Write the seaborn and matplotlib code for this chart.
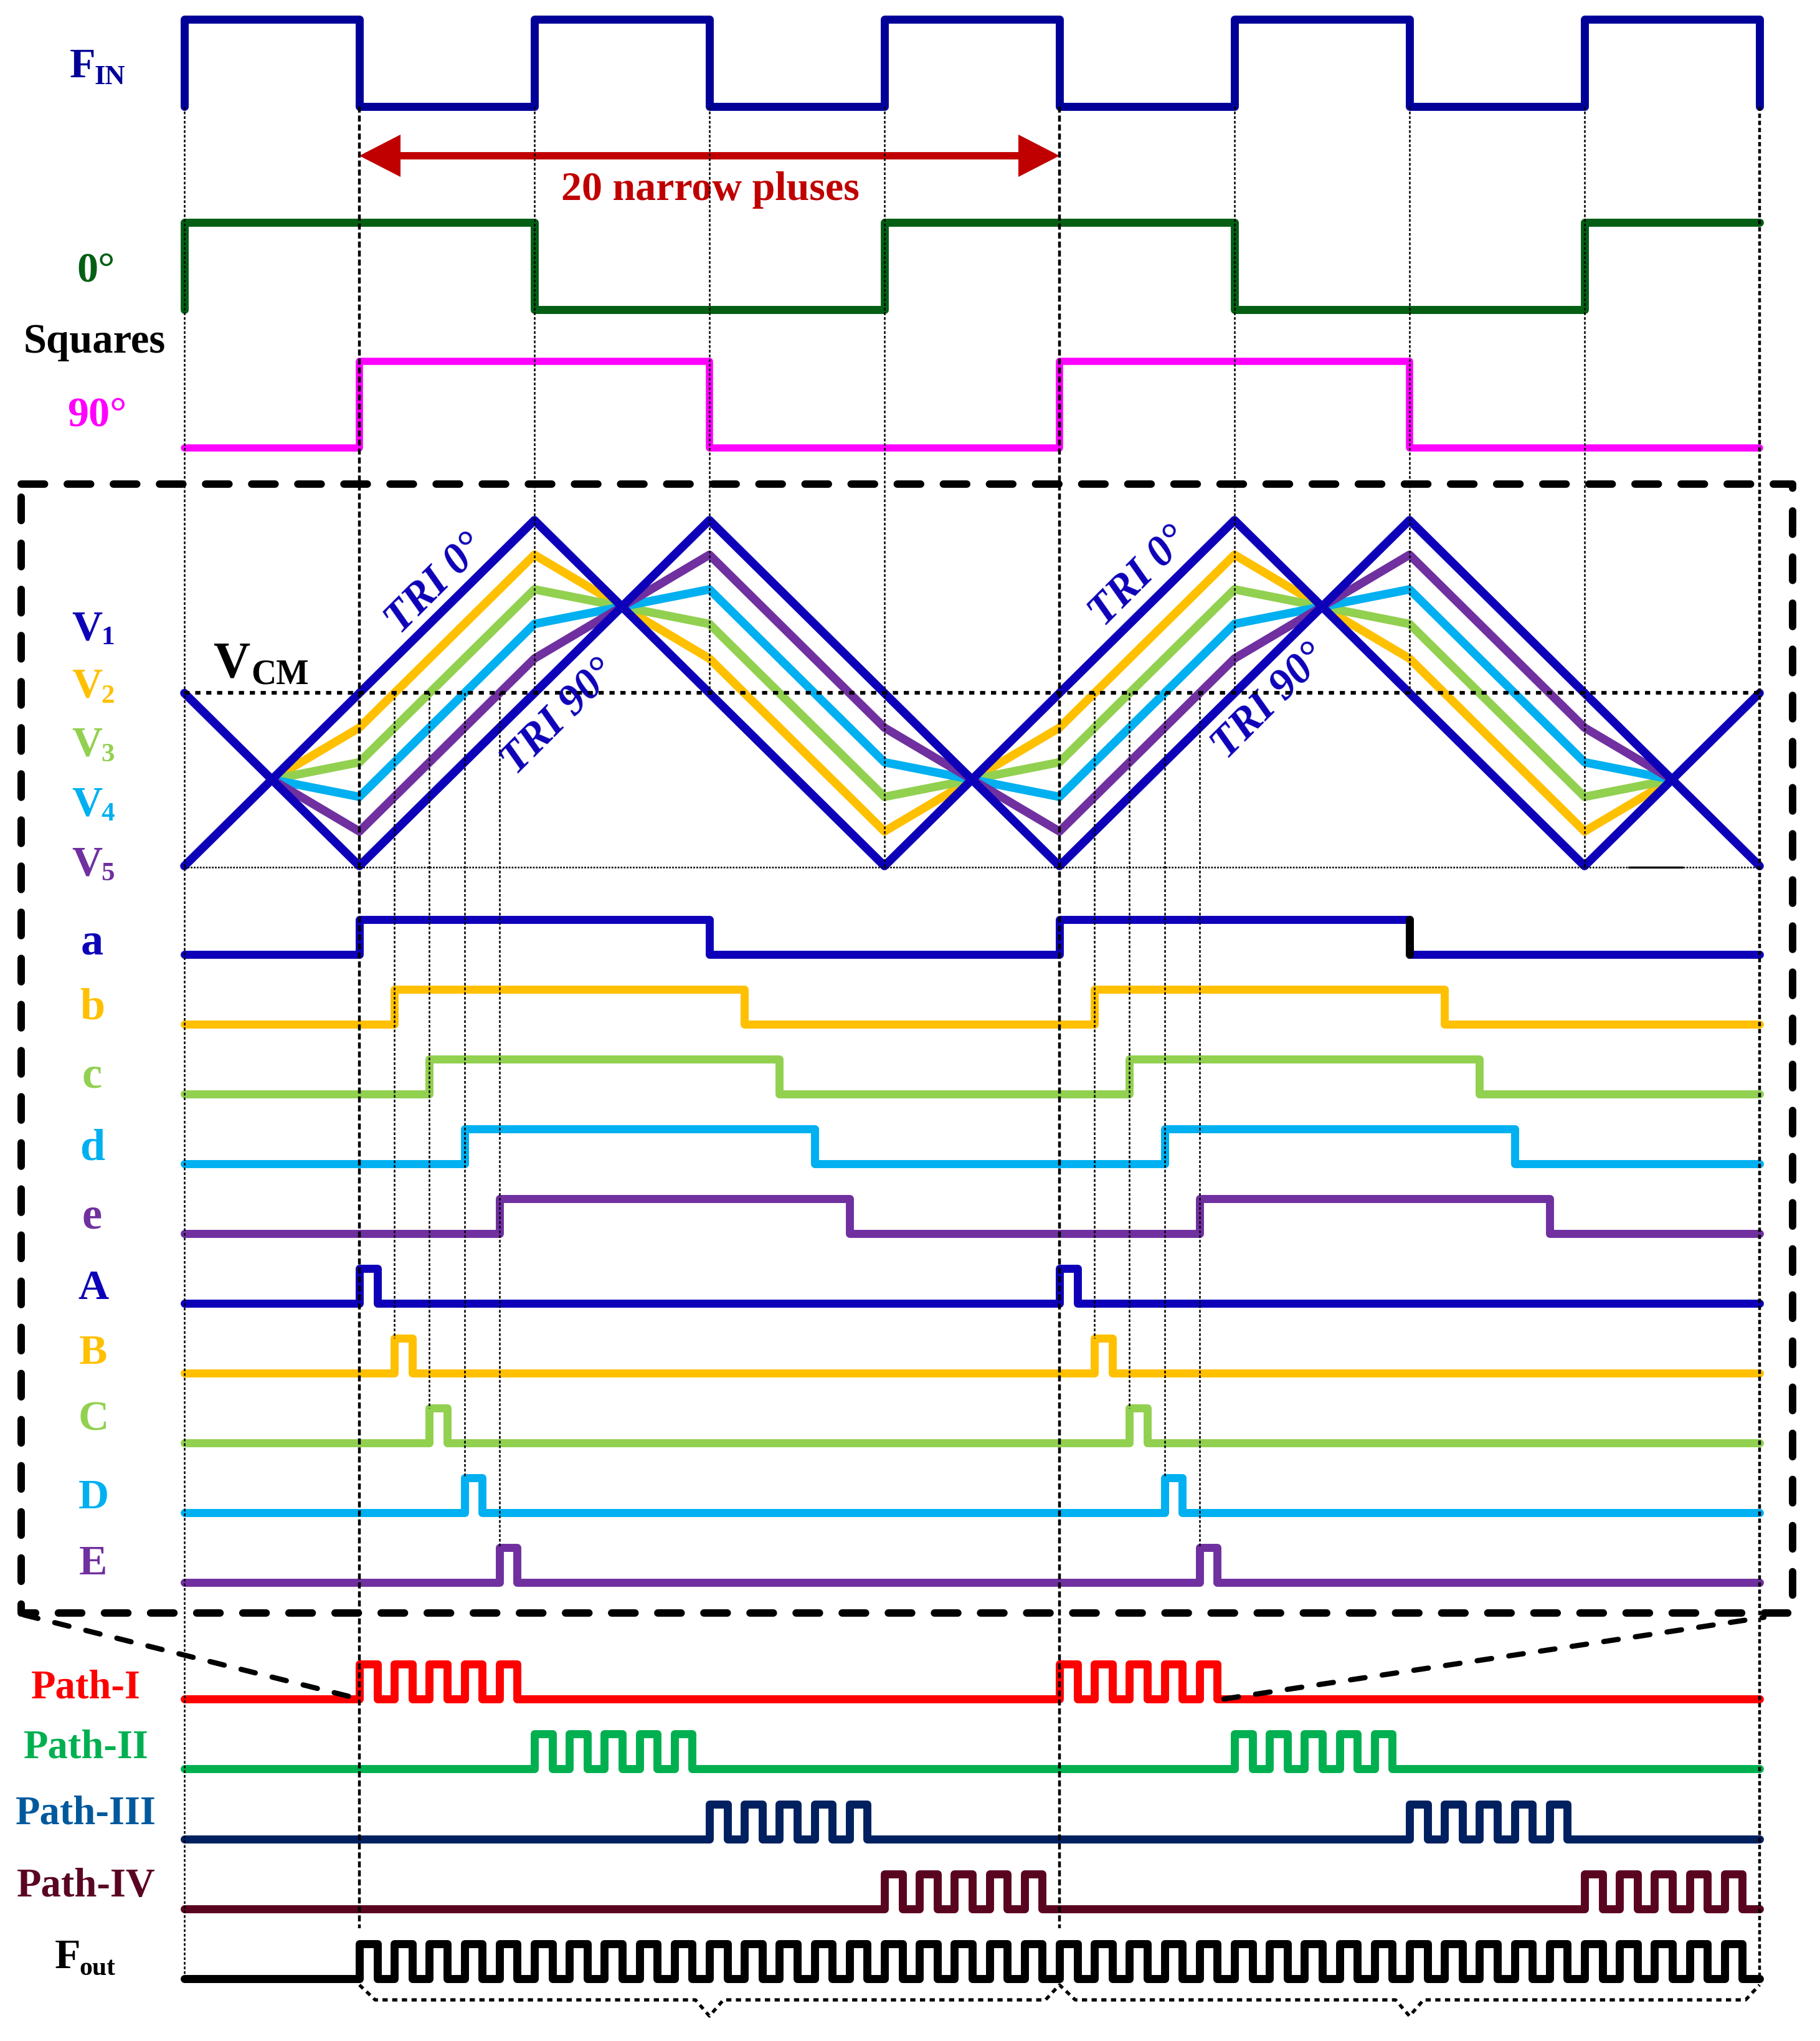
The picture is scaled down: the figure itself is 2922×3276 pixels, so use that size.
import numpy as np
import seaborn as sns
import matplotlib.pyplot as plt

# time axis is in half periods of F_IN, y axis is picture pixels
X0 = 296.
UNIT = 281.
W, H = 2922, 3276

# edges of the square waves
fin_edges = [1, 2, 3, 4, 5, 6, 7, 8]
sq0_edges = [2, 4, 6, 8]
sq90_edges = [1, 3, 5, 7]
a_edges = [1, 3, 5, 7]
b_edges = [1.2, 3.2, 5.2, 7.2]
c_edges = [1.4, 3.4, 5.4, 7.4]
d_edges = [1.6, 3.6, 5.6, 7.6]
e_edges = [1.8, 3.8, 5.8, 7.8]

# triangles, level 0 = bottom, 1 = top
tri0_t = [0, 2, 4, 6, 8, 9]
tri0_v = [0, 1, 0, 1, 0, 0.5]
tri90_t = [0, 1, 3, 5, 7, 9]
tri90_v = [0.5, 0, 1, 0, 1, 0]
v_t = [0.5, 1, 2, 2.5, 3, 4, 4.5, 5, 6, 6.5, 7, 8, 8.5]
v2_v = [.25, .4, .9, .75, .6, .1, .25, .4, .9, .75, .6, .1, .25]
v3_v = [.25, .3, .8, .75, .7, .2, .25, .3, .8, .75, .7, .2, .25]
v4_v = [.25, .2, .7, .75, .8, .3, .25, .2, .7, .75, .8, .3, .25]
v5_v = [.25, .1, .6, .75, .9, .4, .25, .1, .6, .75, .9, .4, .25]

# narrow pulses
A_rise = [1, 5]
B_rise = [1.2, 5.2]
C_rise = [1.4, 5.4]
D_rise = [1.6, 5.6]
E_rise = [1.8, 5.8]
path1_rise = [1, 1.2, 1.4, 1.6, 1.8, 5, 5.2, 5.4, 5.6, 5.8]
path2_rise = [2, 2.2, 2.4, 2.6, 2.8, 6, 6.2, 6.4, 6.6, 6.8]
path3_rise = [3, 3.2, 3.4, 3.6, 3.8, 7, 7.2, 7.4, 7.6, 7.8]
path4_rise = [4, 4.2, 4.4, 4.6, 4.8, 8, 8.2, 8.4, 8.6, 8.8]

NAVY = '#000099'
BLUE = '#0D00B8'
YELLOW = '#FFC000'
GREEN = '#92D050'
SKY = '#00B0F0'
PURPLE = '#7030A0'
FONT = 'Liberation Serif'
LW = 9.3


def px(x):
    return (x - X0) / UNIT


def square(edges, start=0):
    # list of edges -> stepped line from t=0 to t=9
    xs, ys = [0], [start]
    level = start
    for e in edges:
        xs += [e, e]
        ys += [level, 1 - level]
        level = 1 - level
    xs.append(9)
    ys.append(level)
    return np.array(xs, dtype=float), np.array(ys, dtype=float)


def pulses(rises, width=0.102):
    edges = []
    for r in rises:
        edges += [r, r + width]
    return square(edges)


def trace(x, y, color, lw=LW, **kw):
    kw.setdefault('solid_capstyle', 'round')
    kw.setdefault('solid_joinstyle', 'round')
    sns.lineplot(x=np.asarray(x, dtype=float), y=np.asarray(y, dtype=float), color=color,
                 linewidth=lw, estimator=None, sort=False, errorbar=None,
                 legend=False, ax=ax, **kw)


def row(x, lv, base, height, color, lw=LW):
    trace(x, base - np.asarray(lv) * height, color, lw)


def dashed(x, y, on, off, lw, color='black', cap='butt', z=5):
    trace(x, y, color, lw, linestyle=(0, (on, off)), dash_capstyle=cap,
          dash_joinstyle='round', zorder=z)


def label(x, y, s, color, size=49, ha='center', **kw):
    ax.text(px(x), y, s, color=color, fontsize=size, ha=ha, va='baseline',
            family=FONT, weight='bold', **kw)


sns.set_theme(style='white')
plt.rcParams['lines.scale_dashes'] = False
fig = plt.figure(figsize=(W / 100, H / 100), dpi=100, facecolor='white')
ax = fig.add_axes([0, 0, 1, 1])
ax.set_xlim(px(0), px(W))
ax.set_ylim(H, 0)
ax.axis('off')

# top squares
x, y = square(fin_edges, 1)
x = np.concatenate([[0], x, [9]])
y = np.concatenate([[0], y, [0]])
row(x, y, 171, 140, NAVY)
x, y = square(sq0_edges, 1)
x = np.insert(x, 0, 0)
y = np.insert(y, 0, 0)
row(x, y, 497, 140, '#045F14')
row(*square(sq90_edges), 719, 139, '#FF00FF', lw=8.3)

# triangles
TRI_B, TRI_H = 1390, 555
for t, v, c in [(v_t, v2_v, YELLOW), (v_t, v3_v, GREEN), (v_t, v4_v, SKY), (v_t, v5_v, PURPLE),
                (tri0_t, tri0_v, BLUE), (tri90_t, tri90_v, BLUE)]:
    row(t, v, TRI_B, TRI_H, c, lw=9.8)

# comparator outputs
colors5 = [BLUE, YELLOW, GREEN, SKY, PURPLE]
for i, (edges, c) in enumerate(zip([a_edges, b_edges, c_edges, d_edges, e_edges], colors5)):
    row(*square(edges), 1532 + 112 * i, 56, c)
trace([7, 7], [1476, 1532], 'black')
for i, (rises, c) in enumerate(zip([A_rise, B_rise, C_rise, D_rise, E_rise], colors5)):
    row(*pulses(rises), 2092 + 112 * i, 56, c)

# paths and output
row(*pulses(path1_rise), 2727, 56, '#FF0000')
row(*pulses(path2_rise), 2839, 56, '#00B050')
row(*pulses(path3_rise), 2952, 56, '#002060')
row(*pulses(path4_rise), 3064, 56, '#5A0520')
row(*pulses(sorted(path1_rise + path2_rise + path3_rise + path4_rise)), 3176, 56, 'black')

# vertical guides
for t, bottom in [(0, 3176), (2, 1112), (3, 1112), (4, 1392), (6, 1112), (7, 1112), (8, 1392)]:
    dashed([t, t], [171, bottom], 3.2, 2.2, 1.8)
for t in [1, 5]:
    dashed([t, t], [171, 3095], 7, 3.4, 3.2)
dashed([9, 9], [171, 3176], 5, 3.2, 3.2)
for t0 in [1, 5]:
    for k, top in enumerate([2148, 2260, 2372, 2484]):
        t = t0 + [0.2, 0.4, 0.6, 0.8][k]
        dashed([t, t], [1112, top], 3.2, 2.2, 1.8)

# VCM and bottom reference
dashed([0, 9], [1112, 1112], 6, 6.6, 4.2)
dashed([0, 9], [1392, 1392], 2, 1.5, 1.8)
trace([px(2615), px(2701)], [1392, 1392], 'black', 2.4)

# zoom box
box_x = [px(34), px(2878), px(2878), px(34), px(34)]
box_y = [777, 777, 2589, 2589, 777]
dashed(box_x, box_y, 27, 26.3, 8.6, cap='round')
dashed([px(38), 1], [2592, 2727], 17, 20, 6, cap='round')
dashed([px(1965), px(2832)], [2727, 2596], 17, 20, 6, cap='round')

# braces under F_out
brace_t = [1, 1.09, 2.92, 3, 3.08, 4.92, 5, 5.09, 6.92, 7, 7.08, 8.92, 9]
brace_y = [3186, 3210, 3210, 3236, 3210, 3210, 3186, 3210, 3210, 3236, 3210, 3210, 3186]
dashed(brace_t, brace_y, 6, 5.2, 3.8)

# red arrow
ax.annotate('', xy=(1, 250), xytext=(5, 250),
            arrowprops=dict(arrowstyle='<|-|>,head_length=3.4,head_width=1.75', mutation_scale=10,
                            lw=8.5, color='#C00000', shrinkA=0, shrinkB=0, joinstyle='miter'))
label(1140, 321, '20 narrow pluses', '#C00000', size=47.5)

# labels
label(133, 124, 'F', NAVY)
label(176, 135, 'IN', NAVY, size=32)
label(154, 451, '0°', '#045F14')
label(152, 566, 'Squares', 'black', size=48)
label(156, 684, '90°', '#FF00FF')

for i, (base, sub, c) in enumerate([(1026, 1034, BLUE), (1119, 1128, YELLOW), (1212, 1222, GREEN),
                                    (1308, 1317, SKY), (1404, 1413, PURPLE)]):
    label(140, base, 'V', c)
    label(173, sub, str(i + 1), c, size=31)
label(372, 1087, 'V', 'black', size=59)
label(450, 1098, 'CM', 'black', size=40)

for xp, yp, s in [(700, 938, 'TRI 0°'), (1830, 926, 'TRI 0°'), (898, 1152, 'TRI 90°'), (2039, 1127, 'TRI 90°')]:
    ax.text(px(xp), yp, s, color=BLUE, fontsize=50, family=FONT, weight='bold', style='italic',
            rotation=45, ha='center', va='center', rotation_mode='anchor')

for s, base, c in zip('abcde', [1531, 1635, 1745, 1862, 1972], colors5):
    label(148, base, s, c, size=52)
for s, base, c in zip('ABCDE', [2085, 2189, 2295, 2421, 2527], colors5):
    label(150, base, s, c)

label(138, 2726, 'Path-I', '#FF0000', size=46.5)
label(138, 2821, 'Path-II', '#00B050', size=46.5)
label(138, 2927, 'Path-III', '#00599D', size=46.5)
label(138, 3044, 'Path-IV', '#5A0524', size=46.5)
label(109, 3159, 'F', 'black')
label(156, 3170, 'out', 'black', size=30)

fig.savefig('out.png', dpi=100, facecolor='white')
